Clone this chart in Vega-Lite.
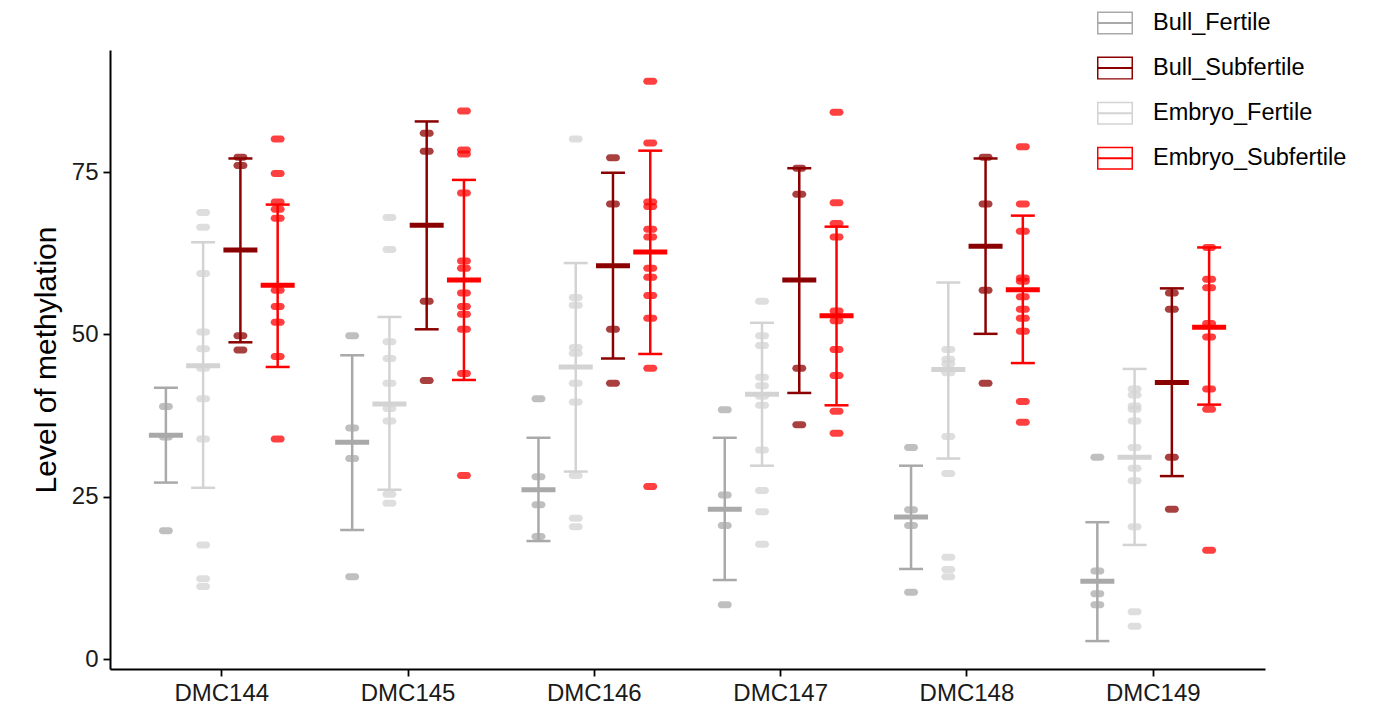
{
  "$schema": "https://vega.github.io/schema/vega-lite/v6.json",
  "width": 1155,
  "height": 619,
  "autosize": {"type": "none"},
  "padding": {"left": 110, "top": 50, "right": 111, "bottom": 42},
  "config": {
    "view": {"stroke": null},
    "font": "Liberation Sans",
    "axis": {
      "grid": false,
      "domainColor": "black",
      "domainWidth": 2,
      "tickColor": "black",
      "tickWidth": 1.8,
      "tickSize": 7,
      "labelFont": "Liberation Sans",
      "labelFontSize": 24,
      "labelColor": "#1a1a1a",
      "titleFont": "Liberation Sans",
      "titleFontWeight": "normal",
      "titleColor": "black"
    }
  },
  "datasets": {
    "summ": [
      {"dmc": "DMC144", "group": "Bull_Fertile", "mean": 34.5, "lo": 27.2, "hi": 41.8},
      {"dmc": "DMC144", "group": "Embryo_Fertile", "mean": 45.2, "lo": 26.4, "hi": 64.2},
      {"dmc": "DMC144", "group": "Bull_Subfertile", "mean": 63.0, "lo": 48.8, "hi": 77.1},
      {"dmc": "DMC144", "group": "Embryo_Subfertile", "mean": 57.6, "lo": 45.0, "hi": 70.0},
      {"dmc": "DMC145", "group": "Bull_Fertile", "mean": 33.4, "lo": 19.9, "hi": 46.8},
      {"dmc": "DMC145", "group": "Embryo_Fertile", "mean": 39.3, "lo": 26.1, "hi": 52.7},
      {"dmc": "DMC145", "group": "Bull_Subfertile", "mean": 66.8, "lo": 50.8, "hi": 82.8},
      {"dmc": "DMC145", "group": "Embryo_Subfertile", "mean": 58.4, "lo": 43.0, "hi": 73.8},
      {"dmc": "DMC146", "group": "Bull_Fertile", "mean": 26.1, "lo": 18.2, "hi": 34.1},
      {"dmc": "DMC146", "group": "Embryo_Fertile", "mean": 45.0, "lo": 28.9, "hi": 61.0},
      {"dmc": "DMC146", "group": "Bull_Subfertile", "mean": 60.6, "lo": 46.3, "hi": 74.9},
      {"dmc": "DMC146", "group": "Embryo_Subfertile", "mean": 62.7, "lo": 47.0, "hi": 78.3},
      {"dmc": "DMC147", "group": "Bull_Fertile", "mean": 23.1, "lo": 12.2, "hi": 34.1},
      {"dmc": "DMC147", "group": "Embryo_Fertile", "mean": 40.8, "lo": 29.8, "hi": 51.8},
      {"dmc": "DMC147", "group": "Bull_Subfertile", "mean": 58.4, "lo": 41.0, "hi": 75.6},
      {"dmc": "DMC147", "group": "Embryo_Subfertile", "mean": 52.9, "lo": 39.1, "hi": 66.6},
      {"dmc": "DMC148", "group": "Bull_Fertile", "mean": 21.9, "lo": 13.9, "hi": 29.8},
      {"dmc": "DMC148", "group": "Embryo_Fertile", "mean": 44.6, "lo": 30.9, "hi": 58.0},
      {"dmc": "DMC148", "group": "Bull_Subfertile", "mean": 63.6, "lo": 50.1, "hi": 77.1},
      {"dmc": "DMC148", "group": "Embryo_Subfertile", "mean": 56.9, "lo": 45.6, "hi": 68.3},
      {"dmc": "DMC149", "group": "Bull_Fertile", "mean": 12.0, "lo": 2.8, "hi": 21.1},
      {"dmc": "DMC149", "group": "Embryo_Fertile", "mean": 31.1, "lo": 17.6, "hi": 44.7},
      {"dmc": "DMC149", "group": "Bull_Subfertile", "mean": 42.6, "lo": 28.2, "hi": 57.1},
      {"dmc": "DMC149", "group": "Embryo_Subfertile", "mean": 51.1, "lo": 39.2, "hi": 63.4}
    ],
    "pts": [
      {"dmc": "DMC144", "group": "Bull_Fertile", "value": 38.9},
      {"dmc": "DMC144", "group": "Bull_Fertile", "value": 34.2},
      {"dmc": "DMC144", "group": "Bull_Fertile", "value": 19.8},
      {"dmc": "DMC144", "group": "Embryo_Fertile", "value": 68.8},
      {"dmc": "DMC144", "group": "Embryo_Fertile", "value": 66.5},
      {"dmc": "DMC144", "group": "Embryo_Fertile", "value": 59.4},
      {"dmc": "DMC144", "group": "Embryo_Fertile", "value": 50.4},
      {"dmc": "DMC144", "group": "Embryo_Fertile", "value": 47.8},
      {"dmc": "DMC144", "group": "Embryo_Fertile", "value": 44.8},
      {"dmc": "DMC144", "group": "Embryo_Fertile", "value": 40.1},
      {"dmc": "DMC144", "group": "Embryo_Fertile", "value": 33.9},
      {"dmc": "DMC144", "group": "Embryo_Fertile", "value": 17.6},
      {"dmc": "DMC144", "group": "Embryo_Fertile", "value": 12.4},
      {"dmc": "DMC144", "group": "Embryo_Fertile", "value": 11.2},
      {"dmc": "DMC144", "group": "Bull_Subfertile", "value": 77.3},
      {"dmc": "DMC144", "group": "Bull_Subfertile", "value": 76.0},
      {"dmc": "DMC144", "group": "Bull_Subfertile", "value": 49.8},
      {"dmc": "DMC144", "group": "Bull_Subfertile", "value": 47.6},
      {"dmc": "DMC144", "group": "Embryo_Subfertile", "value": 80.1},
      {"dmc": "DMC144", "group": "Embryo_Subfertile", "value": 74.8},
      {"dmc": "DMC144", "group": "Embryo_Subfertile", "value": 70.4},
      {"dmc": "DMC144", "group": "Embryo_Subfertile", "value": 69.3},
      {"dmc": "DMC144", "group": "Embryo_Subfertile", "value": 67.9},
      {"dmc": "DMC144", "group": "Embryo_Subfertile", "value": 56.8},
      {"dmc": "DMC144", "group": "Embryo_Subfertile", "value": 54.3},
      {"dmc": "DMC144", "group": "Embryo_Subfertile", "value": 51.9},
      {"dmc": "DMC144", "group": "Embryo_Subfertile", "value": 46.6},
      {"dmc": "DMC144", "group": "Embryo_Subfertile", "value": 33.9},
      {"dmc": "DMC145", "group": "Bull_Fertile", "value": 49.8},
      {"dmc": "DMC145", "group": "Bull_Fertile", "value": 35.6},
      {"dmc": "DMC145", "group": "Bull_Fertile", "value": 30.9},
      {"dmc": "DMC145", "group": "Bull_Fertile", "value": 12.7},
      {"dmc": "DMC145", "group": "Embryo_Fertile", "value": 68.0},
      {"dmc": "DMC145", "group": "Embryo_Fertile", "value": 63.1},
      {"dmc": "DMC145", "group": "Embryo_Fertile", "value": 48.9},
      {"dmc": "DMC145", "group": "Embryo_Fertile", "value": 46.3},
      {"dmc": "DMC145", "group": "Embryo_Fertile", "value": 42.5},
      {"dmc": "DMC145", "group": "Embryo_Fertile", "value": 38.6},
      {"dmc": "DMC145", "group": "Embryo_Fertile", "value": 36.7},
      {"dmc": "DMC145", "group": "Embryo_Fertile", "value": 25.4},
      {"dmc": "DMC145", "group": "Embryo_Fertile", "value": 24.0},
      {"dmc": "DMC145", "group": "Bull_Subfertile", "value": 81.0},
      {"dmc": "DMC145", "group": "Bull_Subfertile", "value": 78.2},
      {"dmc": "DMC145", "group": "Bull_Subfertile", "value": 55.1},
      {"dmc": "DMC145", "group": "Bull_Subfertile", "value": 42.9},
      {"dmc": "DMC145", "group": "Embryo_Subfertile", "value": 84.4},
      {"dmc": "DMC145", "group": "Embryo_Subfertile", "value": 78.4},
      {"dmc": "DMC145", "group": "Embryo_Subfertile", "value": 77.8},
      {"dmc": "DMC145", "group": "Embryo_Subfertile", "value": 71.8},
      {"dmc": "DMC145", "group": "Embryo_Subfertile", "value": 61.3},
      {"dmc": "DMC145", "group": "Embryo_Subfertile", "value": 60.2},
      {"dmc": "DMC145", "group": "Embryo_Subfertile", "value": 56.4},
      {"dmc": "DMC145", "group": "Embryo_Subfertile", "value": 54.3},
      {"dmc": "DMC145", "group": "Embryo_Subfertile", "value": 53.1},
      {"dmc": "DMC145", "group": "Embryo_Subfertile", "value": 50.8},
      {"dmc": "DMC145", "group": "Embryo_Subfertile", "value": 44.0},
      {"dmc": "DMC145", "group": "Embryo_Subfertile", "value": 28.3},
      {"dmc": "DMC146", "group": "Bull_Fertile", "value": 40.1},
      {"dmc": "DMC146", "group": "Bull_Fertile", "value": 28.1},
      {"dmc": "DMC146", "group": "Bull_Fertile", "value": 23.8},
      {"dmc": "DMC146", "group": "Bull_Fertile", "value": 18.9},
      {"dmc": "DMC146", "group": "Embryo_Fertile", "value": 80.1},
      {"dmc": "DMC146", "group": "Embryo_Fertile", "value": 55.7},
      {"dmc": "DMC146", "group": "Embryo_Fertile", "value": 54.5},
      {"dmc": "DMC146", "group": "Embryo_Fertile", "value": 48.0},
      {"dmc": "DMC146", "group": "Embryo_Fertile", "value": 47.1},
      {"dmc": "DMC146", "group": "Embryo_Fertile", "value": 42.5},
      {"dmc": "DMC146", "group": "Embryo_Fertile", "value": 39.6},
      {"dmc": "DMC146", "group": "Embryo_Fertile", "value": 28.3},
      {"dmc": "DMC146", "group": "Embryo_Fertile", "value": 21.7},
      {"dmc": "DMC146", "group": "Embryo_Fertile", "value": 20.4},
      {"dmc": "DMC146", "group": "Bull_Subfertile", "value": 77.2},
      {"dmc": "DMC146", "group": "Bull_Subfertile", "value": 70.1},
      {"dmc": "DMC146", "group": "Bull_Subfertile", "value": 50.8},
      {"dmc": "DMC146", "group": "Bull_Subfertile", "value": 42.5},
      {"dmc": "DMC146", "group": "Embryo_Subfertile", "value": 89.0},
      {"dmc": "DMC146", "group": "Embryo_Subfertile", "value": 79.5},
      {"dmc": "DMC146", "group": "Embryo_Subfertile", "value": 70.4},
      {"dmc": "DMC146", "group": "Embryo_Subfertile", "value": 69.7},
      {"dmc": "DMC146", "group": "Embryo_Subfertile", "value": 66.2},
      {"dmc": "DMC146", "group": "Embryo_Subfertile", "value": 65.0},
      {"dmc": "DMC146", "group": "Embryo_Subfertile", "value": 60.2},
      {"dmc": "DMC146", "group": "Embryo_Subfertile", "value": 58.8},
      {"dmc": "DMC146", "group": "Embryo_Subfertile", "value": 56.0},
      {"dmc": "DMC146", "group": "Embryo_Subfertile", "value": 52.5},
      {"dmc": "DMC146", "group": "Embryo_Subfertile", "value": 44.8},
      {"dmc": "DMC146", "group": "Embryo_Subfertile", "value": 26.6},
      {"dmc": "DMC147", "group": "Bull_Fertile", "value": 38.4},
      {"dmc": "DMC147", "group": "Bull_Fertile", "value": 25.3},
      {"dmc": "DMC147", "group": "Bull_Fertile", "value": 20.6},
      {"dmc": "DMC147", "group": "Bull_Fertile", "value": 8.4},
      {"dmc": "DMC147", "group": "Embryo_Fertile", "value": 55.1},
      {"dmc": "DMC147", "group": "Embryo_Fertile", "value": 49.8},
      {"dmc": "DMC147", "group": "Embryo_Fertile", "value": 48.3},
      {"dmc": "DMC147", "group": "Embryo_Fertile", "value": 43.4},
      {"dmc": "DMC147", "group": "Embryo_Fertile", "value": 42.1},
      {"dmc": "DMC147", "group": "Embryo_Fertile", "value": 40.5},
      {"dmc": "DMC147", "group": "Embryo_Fertile", "value": 39.1},
      {"dmc": "DMC147", "group": "Embryo_Fertile", "value": 32.2},
      {"dmc": "DMC147", "group": "Embryo_Fertile", "value": 26.0},
      {"dmc": "DMC147", "group": "Embryo_Fertile", "value": 22.7},
      {"dmc": "DMC147", "group": "Embryo_Fertile", "value": 17.7},
      {"dmc": "DMC147", "group": "Bull_Subfertile", "value": 75.6},
      {"dmc": "DMC147", "group": "Bull_Subfertile", "value": 71.6},
      {"dmc": "DMC147", "group": "Bull_Subfertile", "value": 44.8},
      {"dmc": "DMC147", "group": "Bull_Subfertile", "value": 36.1},
      {"dmc": "DMC147", "group": "Embryo_Subfertile", "value": 84.2},
      {"dmc": "DMC147", "group": "Embryo_Subfertile", "value": 70.3},
      {"dmc": "DMC147", "group": "Embryo_Subfertile", "value": 67.1},
      {"dmc": "DMC147", "group": "Embryo_Subfertile", "value": 65.0},
      {"dmc": "DMC147", "group": "Embryo_Subfertile", "value": 53.6},
      {"dmc": "DMC147", "group": "Embryo_Subfertile", "value": 52.1},
      {"dmc": "DMC147", "group": "Embryo_Subfertile", "value": 47.7},
      {"dmc": "DMC147", "group": "Embryo_Subfertile", "value": 43.7},
      {"dmc": "DMC147", "group": "Embryo_Subfertile", "value": 38.2},
      {"dmc": "DMC147", "group": "Embryo_Subfertile", "value": 34.8},
      {"dmc": "DMC148", "group": "Bull_Fertile", "value": 32.6},
      {"dmc": "DMC148", "group": "Bull_Fertile", "value": 23.0},
      {"dmc": "DMC148", "group": "Bull_Fertile", "value": 20.6},
      {"dmc": "DMC148", "group": "Bull_Fertile", "value": 10.3},
      {"dmc": "DMC148", "group": "Embryo_Fertile", "value": 47.7},
      {"dmc": "DMC148", "group": "Embryo_Fertile", "value": 46.2},
      {"dmc": "DMC148", "group": "Embryo_Fertile", "value": 45.5},
      {"dmc": "DMC148", "group": "Embryo_Fertile", "value": 44.1},
      {"dmc": "DMC148", "group": "Embryo_Fertile", "value": 34.3},
      {"dmc": "DMC148", "group": "Embryo_Fertile", "value": 28.6},
      {"dmc": "DMC148", "group": "Embryo_Fertile", "value": 15.7},
      {"dmc": "DMC148", "group": "Embryo_Fertile", "value": 13.8},
      {"dmc": "DMC148", "group": "Embryo_Fertile", "value": 12.7},
      {"dmc": "DMC148", "group": "Bull_Subfertile", "value": 77.3},
      {"dmc": "DMC148", "group": "Bull_Subfertile", "value": 70.1},
      {"dmc": "DMC148", "group": "Bull_Subfertile", "value": 56.8},
      {"dmc": "DMC148", "group": "Bull_Subfertile", "value": 42.5},
      {"dmc": "DMC148", "group": "Embryo_Subfertile", "value": 78.9},
      {"dmc": "DMC148", "group": "Embryo_Subfertile", "value": 70.1},
      {"dmc": "DMC148", "group": "Embryo_Subfertile", "value": 65.9},
      {"dmc": "DMC148", "group": "Embryo_Subfertile", "value": 58.7},
      {"dmc": "DMC148", "group": "Embryo_Subfertile", "value": 58.2},
      {"dmc": "DMC148", "group": "Embryo_Subfertile", "value": 55.8},
      {"dmc": "DMC148", "group": "Embryo_Subfertile", "value": 53.9},
      {"dmc": "DMC148", "group": "Embryo_Subfertile", "value": 52.5},
      {"dmc": "DMC148", "group": "Embryo_Subfertile", "value": 50.5},
      {"dmc": "DMC148", "group": "Embryo_Subfertile", "value": 39.7},
      {"dmc": "DMC148", "group": "Embryo_Subfertile", "value": 36.5},
      {"dmc": "DMC149", "group": "Bull_Fertile", "value": 31.1},
      {"dmc": "DMC149", "group": "Bull_Fertile", "value": 13.6},
      {"dmc": "DMC149", "group": "Bull_Fertile", "value": 10.1},
      {"dmc": "DMC149", "group": "Bull_Fertile", "value": 8.4},
      {"dmc": "DMC149", "group": "Embryo_Fertile", "value": 41.6},
      {"dmc": "DMC149", "group": "Embryo_Fertile", "value": 40.7},
      {"dmc": "DMC149", "group": "Embryo_Fertile", "value": 39.0},
      {"dmc": "DMC149", "group": "Embryo_Fertile", "value": 38.5},
      {"dmc": "DMC149", "group": "Embryo_Fertile", "value": 36.7},
      {"dmc": "DMC149", "group": "Embryo_Fertile", "value": 32.6},
      {"dmc": "DMC149", "group": "Embryo_Fertile", "value": 29.4},
      {"dmc": "DMC149", "group": "Embryo_Fertile", "value": 27.5},
      {"dmc": "DMC149", "group": "Embryo_Fertile", "value": 20.4},
      {"dmc": "DMC149", "group": "Embryo_Fertile", "value": 7.3},
      {"dmc": "DMC149", "group": "Embryo_Fertile", "value": 5.1},
      {"dmc": "DMC149", "group": "Bull_Subfertile", "value": 56.4},
      {"dmc": "DMC149", "group": "Bull_Subfertile", "value": 53.9},
      {"dmc": "DMC149", "group": "Bull_Subfertile", "value": 31.1},
      {"dmc": "DMC149", "group": "Bull_Subfertile", "value": 23.1},
      {"dmc": "DMC149", "group": "Embryo_Subfertile", "value": 63.4},
      {"dmc": "DMC149", "group": "Embryo_Subfertile", "value": 58.5},
      {"dmc": "DMC149", "group": "Embryo_Subfertile", "value": 57.2},
      {"dmc": "DMC149", "group": "Embryo_Subfertile", "value": 51.7},
      {"dmc": "DMC149", "group": "Embryo_Subfertile", "value": 49.6},
      {"dmc": "DMC149", "group": "Embryo_Subfertile", "value": 41.6},
      {"dmc": "DMC149", "group": "Embryo_Subfertile", "value": 38.5},
      {"dmc": "DMC149", "group": "Embryo_Subfertile", "value": 16.8}
    ]
  },
  "encoding": {
    "x": {
      "field": "dmc",
      "type": "nominal",
      "title": null,
      "scale": {"paddingInner": 0, "paddingOuter": 0.1},
      "axis": {"labelAngle": 0, "labelPadding": 5}
    },
    "xOffset": {
      "field": "group",
      "type": "nominal",
      "scale": {"domain": ["Bull_Fertile", "Embryo_Fertile", "Bull_Subfertile", "Embryo_Subfertile"], "paddingInner": 0, "paddingOuter": 0.5}
    }
  },
  "layer": [
    {
      "data": {"name": "summ"},
      "mark": {"type": "rule", "strokeWidth": 2.5},
      "encoding": {
        "y": {
          "field": "lo",
          "type": "quantitative",
          "title": "Level of methylation",
          "scale": {"domain": [-1.5, 93.8], "nice": false, "zero": false},
          "axis": {"values": [0, 25, 50, 75], "titleFontSize": 30, "titlePadding": 10, "labelPadding": 5}
        },
        "y2": {"field": "hi"},
        "stroke": {
          "field": "group",
          "type": "nominal",
          "title": null,
          "scale": {
            "domain": ["Bull_Fertile", "Bull_Subfertile", "Embryo_Fertile", "Embryo_Subfertile"],
            "range": ["#A9A9A9", "#8B0000", "#D3D3D3", "#FF0000"]
          },
          "legend": {
            "orient": "none",
            "legendX": 987,
            "legendY": -45,
            "padding": 0,
            "symbolType": "M-1,-0.64L1,-0.64L1,0.64L-1,0.64Z M-0.917,-0.557L-0.917,0.557L0.917,0.557L0.917,-0.557Z M-0.917,-0.055L0.917,-0.055L0.917,0.055L-0.917,0.055Z",
            "symbolSize": 1296,
            "symbolStrokeWidth": 0,
            "labelFont": "Liberation Sans",
            "labelFontSize": 23.5,
            "labelColor": "black",
            "labelOffset": 20,
            "labelLimit": 400,
            "rowPadding": 15.1
          }
        }
      }
    },
    {
      "data": {"name": "summ"},
      "mark": {"type": "tick", "size": 24, "thickness": 2.5, "opacity": 1},
      "encoding": {
        "y": {"field": "lo", "type": "quantitative"},
        "color": {
          "field": "group", "type": "nominal", "legend": null,
          "scale": {
            "domain": ["Bull_Fertile", "Bull_Subfertile", "Embryo_Fertile", "Embryo_Subfertile"],
            "range": ["#A9A9A9", "#8B0000", "#D3D3D3", "#FF0000"]
          }
        }
      }
    },
    {
      "data": {"name": "summ"},
      "mark": {"type": "tick", "size": 24, "thickness": 2.5, "opacity": 1},
      "encoding": {
        "y": {"field": "hi", "type": "quantitative"},
        "color": {"field": "group", "type": "nominal", "legend": null}
      }
    },
    {
      "data": {"name": "pts"},
      "mark": {
        "type": "point",
        "filled": true,
        "opacity": 0.75,
        "size": 196,
        "shape": "M-0.5,-0.5L0.5,-0.5A0.5,0.5 0 0 1 0.5,0.5L-0.5,0.5A0.5,0.5 0 0 1 -0.5,-0.5Z"
      },
      "encoding": {
        "y": {"field": "value", "type": "quantitative"},
        "color": {"field": "group", "type": "nominal", "legend": null}
      }
    },
    {
      "data": {"name": "summ"},
      "mark": {"type": "tick", "size": 34, "thickness": 5, "opacity": 1},
      "encoding": {
        "y": {"field": "mean", "type": "quantitative"},
        "color": {"field": "group", "type": "nominal", "legend": null}
      }
    }
  ]
}
